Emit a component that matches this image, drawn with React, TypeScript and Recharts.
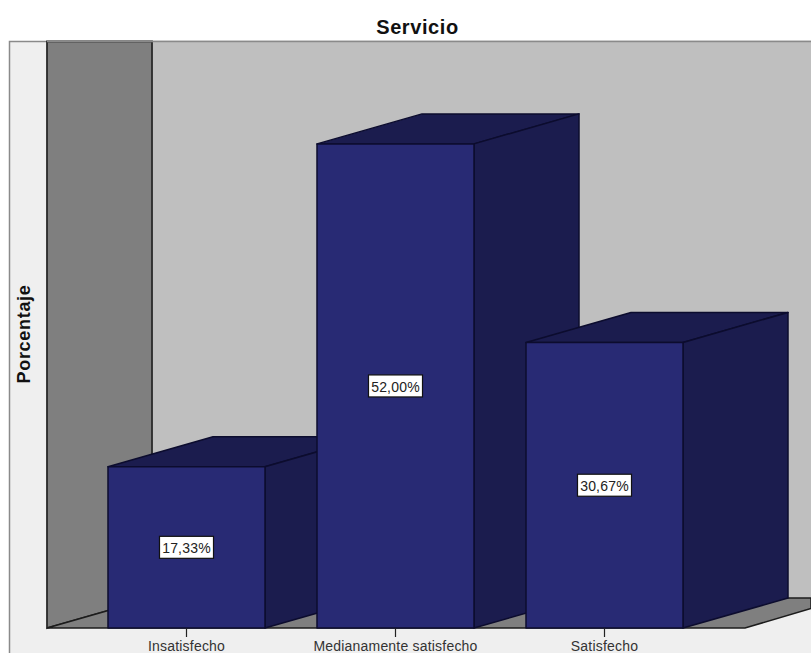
import { Bar, BarChart, LabelList, XAxis, YAxis } from 'recharts';

const categories = ['Insatisfecho', 'Medianamente satisfecho', 'Satisfecho'];
const percentages = [17.33, 52.0, 30.67];

const data = categories.map((name, i) => ({ name, value: percentages[i] }));

const WIDTH = 811;
const HEIGHT = 653;
const FONT = '"Liberation Sans", Arial, sans-serif';

// extrusion of the 3D look
const DX = 105;
const DY = -30;

const EDGE = '#0c0c2e';
const FRONT = '#282a74';
const SHADE = '#1b1c4e';

// Frame, side wall, back wall and floor behind the bars
function Room() {
  return (
    <g>
      <rect x={9.5} y={41.5} width={WIDTH} height={HEIGHT} fill="#efefef" stroke="#8a8a8a" strokeWidth={1.5} />
      <rect x={152} y={41.5} width={WIDTH - 152} height={557} fill="#bfbfbf" />
      <polygon points="47,41.5 152,41.5 152,598 47,628" fill="#7f7f7f" stroke="#2a2a2a" strokeWidth={1.8} />
      <polygon
        points={`47,628 152,598 ${WIDTH},598 ${WIDTH},608.5 745,628`}
        fill="#7f7f7f"
        stroke="#1c1c1c"
        strokeWidth={1.5}
      />
      <line x1={47} y1={41.5} x2={WIDTH} y2={41.5} stroke="#8a8a8a" strokeWidth={1.5} />
    </g>
  );
}

function Box3D({ x, y, width, height }: any) {
  const r = x + width;
  const b = y + height;
  return (
    <g stroke={EDGE} strokeWidth={1.5} strokeLinejoin="round">
      <polygon points={`${x},${y} ${x + DX},${y + DY} ${r + DX},${y + DY} ${r},${y}`} fill={SHADE} />
      <polygon points={`${r},${y} ${r + DX},${y + DY} ${r + DX},${b + DY} ${r},${b}`} fill={SHADE} />
      <rect x={x} y={y} width={width} height={height} fill={FRONT} />
    </g>
  );
}

function ValueTag({ x, y, width, height, value }: any) {
  const cx = x + width / 2;
  const cy = y + height / 2;
  return (
    <g>
      <rect x={cx - 27} y={cy - 11} width={54} height={22} fill="#fff" stroke="#111" strokeWidth={1.2} />
      <text
        x={cx}
        y={cy + 6}
        textAnchor="middle"
        fontFamily={FONT}
        fontSize={14}
        letterSpacing={0.2}
        fill="#222"
      >
        {value.toFixed(2).replace('.', ',')}%
      </text>
    </g>
  );
}

export default function App() {
  return (
    <div style={{ position: 'absolute', left: 0, top: 0, width: WIDTH, height: HEIGHT, background: '#fff' }}>
      <BarChart
        width={WIDTH}
        height={HEIGHT}
        data={data}
        margin={{ top: 69.4, right: 102, bottom: 0, left: 82 }}
        barSize={157}
      >
        <Room />
        <text
          x={417.5}
          y={34}
          textAnchor="middle"
          fontFamily={FONT}
          fontWeight="bold"
          fontSize={20}
          letterSpacing={0.6}
          fill="#111"
        >
          Servicio
        </text>
        <text
          transform="translate(30,334) rotate(-90)"
          textAnchor="middle"
          fontFamily={FONT}
          fontWeight="bold"
          fontSize={18}
          letterSpacing={0.7}
          fill="#111"
        >
          Porcentaje
        </text>
        <YAxis hide domain={[0, 60]} />
        <XAxis
          dataKey="name"
          height={25}
          axisLine={false}
          tickSize={9}
          tickMargin={4}
          interval={0}
          tickLine={{ stroke: '#222', strokeWidth: 1.2 }}
          tick={{ fontFamily: FONT, fontSize: 14, fill: '#333', letterSpacing: 0.2 }}
        />
        <Bar dataKey="value" isAnimationActive={false} shape={<Box3D />}>
          <LabelList dataKey="value" content={<ValueTag />} />
        </Bar>
      </BarChart>
    </div>
  );
}
